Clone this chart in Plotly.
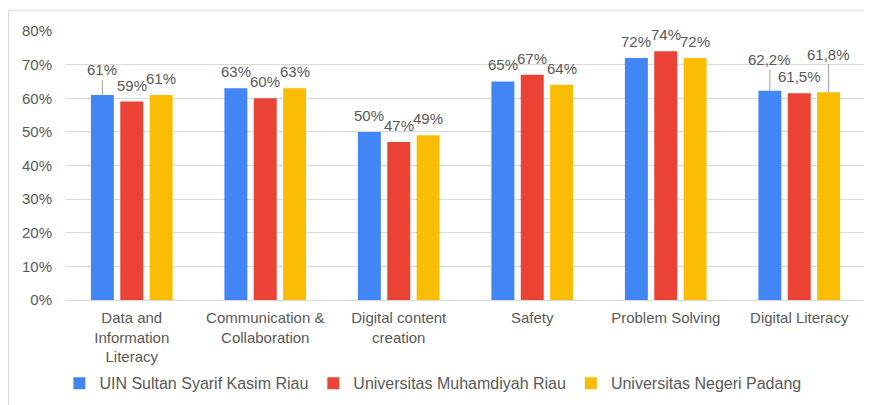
import plotly.graph_objects as go

categories = ["Data and<br>Information<br>Literacy", "Communication &<br>Collaboration",
              "Digital content<br>creation", "Safety", "Problem Solving", "Digital Literacy"]
series_names = ["UIN Sultan Syarif Kasim Riau", "Universitas Muhamdiyah Riau", "Universitas Negeri Padang"]
uin_values = [0.61, 0.63, 0.50, 0.65, 0.72, 0.622]
umri_values = [0.59, 0.60, 0.47, 0.67, 0.74, 0.615]
unp_values = [0.61, 0.63, 0.49, 0.64, 0.72, 0.618]
uin_labels = ["61%", "63%", "50%", "65%", "72%", "62,2%"]
umri_labels = ["59%", "60%", "47%", "67%", "74%", "61,5%"]
unp_labels = ["61%", "63%", "49%", "64%", "72%", "61,8%"]
y_ticks = [0, 0.1, 0.2, 0.3, 0.4, 0.5, 0.6, 0.7, 0.8]
y_tick_labels = ["0%", "10%", "20%", "30%", "40%", "50%", "60%", "70%", "80%"]

colors = ["#4285F4", "#EA4335", "#FBBC04"]
all_values = [uin_values, umri_values, unp_values]
all_labels = [uin_labels, umri_labels, unp_labels]
# labels drawn with a leader line: (series index, category index) -> pixel lift
leader = {(0, 0): 25, (0, 5): 31, (2, 5): 38}

pitch = 0.22
width = 0.172
text_color = "#595959"
font_family = "Liberation Sans, Arial, sans-serif"
fs = 15

W, H = 864, 397
ml, mr, mt, mb = 57, 6, 23, 103.5
pw = W - ml - mr
ph = H - mt - mb

fig = go.Figure()
annotations = []
for s in range(3):
    xs = [g + (s - 1) * pitch for g in range(len(categories))]
    fig.add_trace(go.Bar(x=xs, y=all_values[s], width=width, name=series_names[s],
                         marker=dict(color=colors[s], line=dict(width=0))))
    for g, (x, v, t) in enumerate(zip(xs, all_values[s], all_labels[s])):
        if (s, g) in leader:
            annotations.append(dict(x=x, y=v, xref="x", yref="y", text=t, showarrow=True,
                                    arrowhead=0, arrowwidth=1, arrowcolor="#9e9e9e",
                                    ax=0, ay=-leader[(s, g)], standoff=0,
                                    font=dict(size=fs, color=text_color, family=font_family)))
        else:
            annotations.append(dict(x=x, y=v, xref="x", yref="y", text=t, showarrow=False,
                                    yanchor="bottom", yshift=6,
                                    font=dict(size=fs, color=text_color, family=font_family)))

fig.update_layout(
    width=W, height=H,
    margin=dict(l=ml, r=mr, t=mt, b=mb),
    paper_bgcolor="white", plot_bgcolor="white",
    font=dict(family=font_family, size=fs, color=text_color),
    showlegend=True,
    legend=dict(orientation="h", x=-0.007, xanchor="left", y=-(376 - (H - mb)) / ph, yanchor="middle",
                font=dict(size=16, color=text_color), itemwidth=30, traceorder="normal"),
    annotations=annotations,
    shapes=[dict(type="rect", xref="paper", yref="paper",
                 x0=(0.5 - ml) / pw, x1=(W + 20 - ml) / pw,
                 y0=-(H + 20 - (H - mb)) / ph, y1=((H - mb) - 2) / ph,
                 line=dict(color="#d9d9d9", width=1), layer="below")],
)
fig.update_xaxes(range=[-0.5, 5.5], tickvals=list(range(len(categories))), ticktext=categories,
                 showline=True, linecolor="#d9d9d9", linewidth=1, showgrid=False, ticks="",
                 zeroline=False, ticklabelstandoff=4, tickfont=dict(size=fs, color=text_color))
fig.update_yaxes(range=[0, 0.8], tickvals=y_ticks, ticktext=y_tick_labels, showgrid=True,
                 gridcolor="#d9d9d9", gridwidth=1, zeroline=False, showline=False, ticks="",
                 ticklabelstandoff=12, tickfont=dict(size=fs, color=text_color))

fig.write_html("out.html")
